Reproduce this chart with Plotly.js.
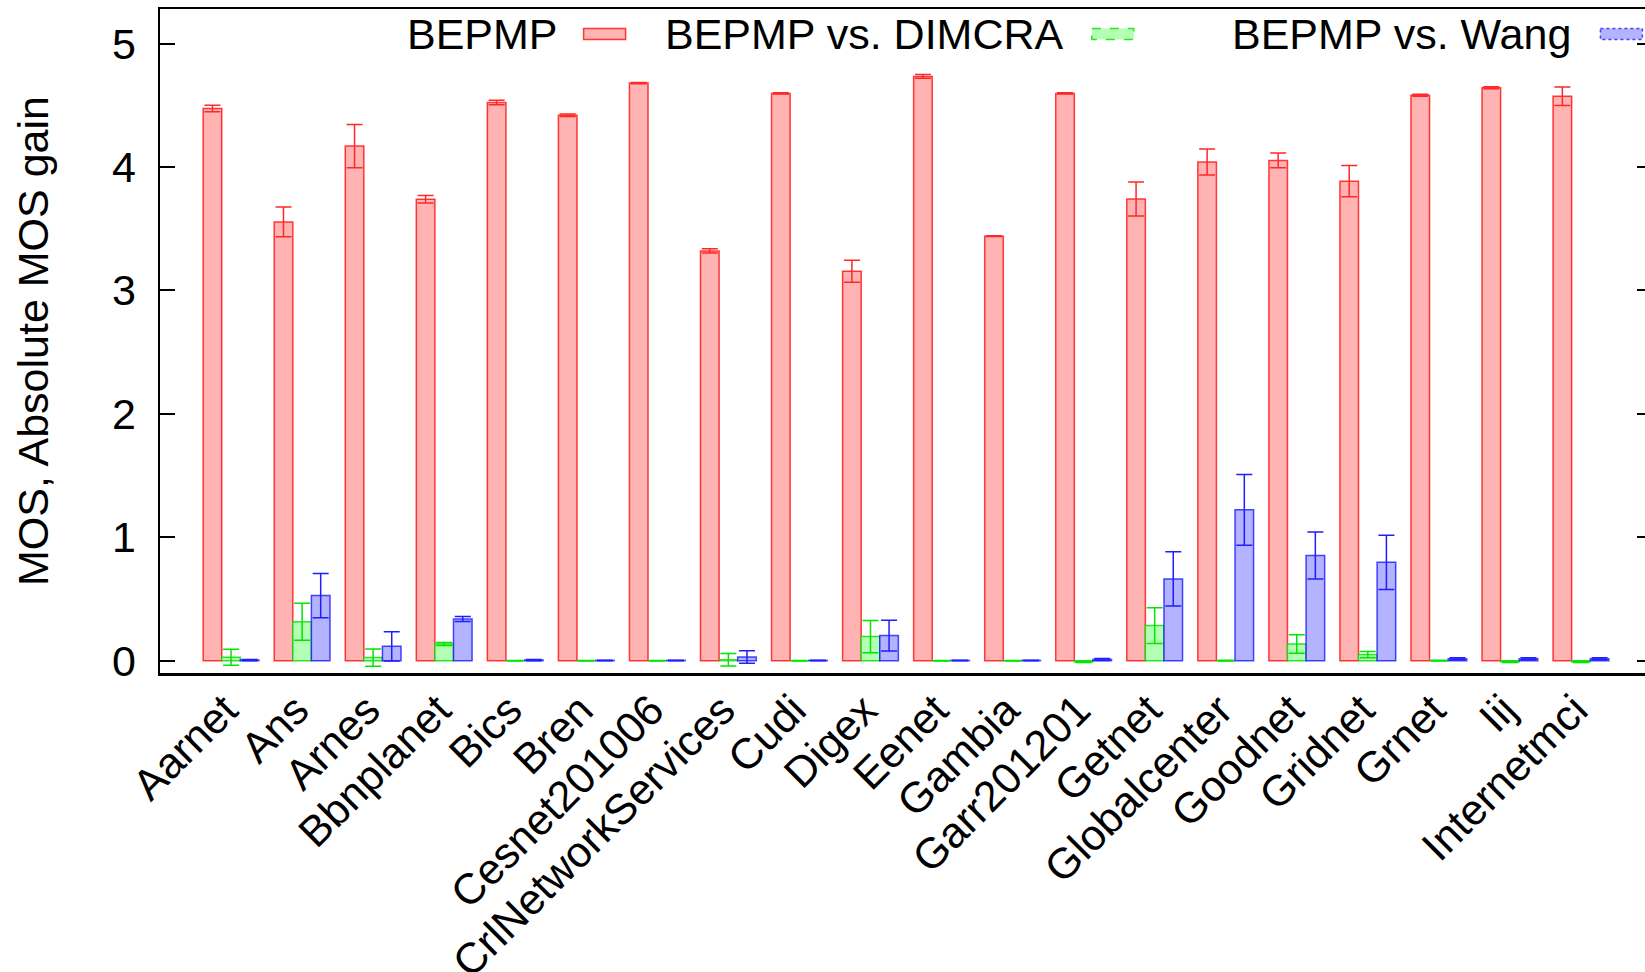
<!DOCTYPE html>
<html>
<head>
<meta charset="utf-8">
<script src="https://cdn.plot.ly/plotly-3.0.1.min.js"></script>
<style>
html, body { margin: 0; padding: 0; overflow: hidden; background: #fff; }
#chart { width: 1665px; height: 972px; }
</style>
</head>
<body>
<div id="chart"></div>
<script>
const categories = ["Aarnet", "Ans", "Arnes", "Bbnplanet", "Bics", "Bren", "Cesnet201006",
  "CrlNetworkServices", "Cudi", "Digex", "Eenet", "Gambia", "Garr201201", "Getnet",
  "Globalcenter", "Goodnet", "Gridnet", "Grnet", "Iij", "Internetmci"];

const seriesNames = ["BEPMP", "BEPMP vs. DIMCRA", "BEPMP vs. Wang"];
const yTitle = "MOS, Absolute MOS gain";

const bepmp = [4.474, 3.555, 4.169, 3.739, 4.523, 4.420, 4.680, 3.320, 4.596, 3.155,
  4.734, 3.439, 4.596, 3.741, 4.041, 4.053, 3.885, 4.582, 4.642, 4.574];
const bepmpErr = [0.027, 0.120, 0.176, 0.030, 0.018, 0.010, 0.005, 0.017, 0.005, 0.089,
  0.016, 0.003, 0.005, 0.138, 0.105, 0.060, 0.127, 0.008, 0.008, 0.075];

const gainDimcra = [0.027, 0.316, 0.025, 0.135, 0.000, 0.000, 0.000, 0.007, 0.000, 0.195,
  0.000, 0.000, -0.010, 0.284, 0.000, 0.135, 0.049, 0.000, -0.010, -0.010];
const gainDimcraErr = [0.065, 0.150, 0.070, 0.013, 0.002, 0.002, 0.002, 0.050, 0.002, 0.130,
  0.002, 0.002, 0.005, 0.145, 0.003, 0.075, 0.025, 0.003, 0.005, 0.005];

const gainWang = [0.005, 0.527, 0.116, 0.338, 0.005, 0.002, 0.002, 0.030, 0.002, 0.203,
  0.002, 0.002, 0.010, 0.662, 1.222, 0.852, 0.797, 0.015, 0.015, 0.015];
const gainWangErr = [0.005, 0.180, 0.118, 0.020, 0.005, 0.002, 0.002, 0.050, 0.002, 0.125,
  0.002, 0.002, 0.008, 0.220, 0.287, 0.190, 0.220, 0.008, 0.008, 0.008];

const yTicks = [0, 1, 2, 3, 4, 5];

const FONT = '"Liberation Sans", Arial, Helvetica, sans-serif';
const W = 1665, H = 972;
const M = { l: 160, r: 13, t: 9, b: 299 };
const PW = W - M.l - M.r, PH = H - M.t - M.b;
const px2x = p => (p - M.l) / PW;
const px2y = p => (H - M.b - p) / PH;

const styles = [
  { fill: 'rgb(255,179,179)', edge: 'rgba(255,0,0,0.75)', err: 'rgb(255,40,40)', dash: 'solid' },
  { fill: 'rgb(179,255,179)', edge: 'rgba(0,220,0,0.8)', err: 'rgb(0,230,0)', dash: 'dash' },
  { fill: 'rgb(179,179,255)', edge: 'rgba(0,0,255,0.7)', err: 'rgb(30,30,255)', dash: 'dot' }
];
const values = [bepmp, gainDimcra, gainWang];
const errors = [bepmpErr, gainDimcraErr, gainWangErr];

const traces = values.map((v, i) => ({
  type: 'bar',
  name: seriesNames[i],
  x: categories,
  y: v,
  marker: { color: styles[i].fill, line: { color: styles[i].edge, width: 1.5 } },
  error_y: { type: 'data', array: errors[i], visible: true, color: styles[i].err, thickness: 1.5, width: 8 },
  showlegend: false
}));

// gnuplot-style key: text followed by sample box
const keyTextRight = [559.5, 1065.7, 1573];
const keySampleLeft = [583.6, 1091.8, 1600.4];
const keyY = 34;
const annotations = seriesNames.map((n, i) => ({
  xref: 'paper', yref: 'paper', x: px2x(keyTextRight[i]), y: px2y(keyY),
  xanchor: 'right', yanchor: 'middle', showarrow: false,
  text: n, font: { family: FONT, size: 43, color: '#000' }
}));
annotations.push({
  xref: 'paper', yref: 'paper', x: px2x(33), y: 0.5,
  xanchor: 'center', yanchor: 'middle', showarrow: false, textangle: -90,
  text: yTitle, font: { family: FONT, size: 43, color: '#000' }
});
const shapes = seriesNames.map((n, i) => ({
  type: 'rect', xref: 'paper', yref: 'paper',
  x0: px2x(keySampleLeft[i]), x1: px2x(keySampleLeft[i] + 42),
  y0: px2y(keyY - 5.5), y1: px2y(keyY + 5.5),
  fillcolor: styles[i].fill,
  line: { color: styles[i].edge, width: 1.5, dash: styles[i].dash }
}));

const layout = {
  width: W, height: H,
  margin: M,
  paper_bgcolor: '#fff', plot_bgcolor: '#fff',
  barmode: 'group', bargap: 0.215, bargroupgap: 0,
  font: { family: FONT, size: 43, color: '#000' },
  xaxis: {
    type: 'category', range: [-1, 20],
    showline: true, linecolor: '#000', linewidth: 2.5, mirror: true,
    ticks: '', tickangle: -45, showgrid: false, zeroline: false,
    ticklabelstandoff: -8, ticklabelshift: -6,
    tickfont: { family: FONT, size: 43, color: '#000' },
    automargin: false
  },
  yaxis: {
    range: [-0.1, 5.28], tickvals: yTicks, ticktext: yTicks.map(String),
    showline: true, linecolor: '#000', linewidth: 2.5, mirror: 'ticks',
    ticks: 'inside', ticklen: 15, tickwidth: 2, tickcolor: '#000',
    ticklabelstandoff: 13,
    showgrid: false, zeroline: false,
    tickfont: { family: FONT, size: 43, color: '#000' },
    automargin: false
  },
  annotations: annotations,
  shapes: shapes
};

Plotly.newPlot('chart', traces, layout, { displayModeBar: false, staticPlot: true });
</script>
</body>
</html>
